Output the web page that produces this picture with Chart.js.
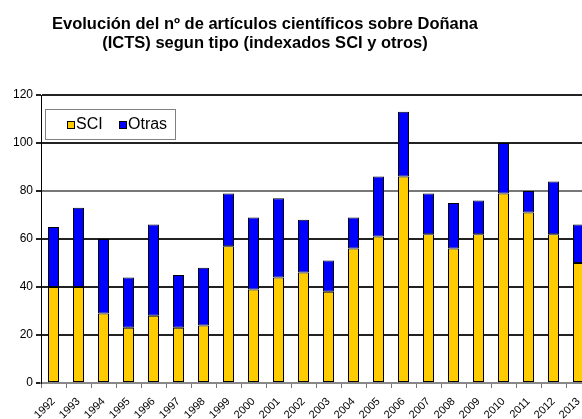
<!DOCTYPE html>
<html>
<head>
<meta charset="utf-8">
<script src="https://cdn.jsdelivr.net/npm/chart.js@4/dist/chart.umd.min.js"></script>
<style>
  html, body { margin: 0; padding: 0; background: #fff; overflow: hidden; }
  #wrap { width: 600px; height: 419px; }
</style>
</head>
<body>
<div id="wrap"><canvas id="chartArticulos" width="600" height="419"></canvas></div>
<script>
const years = ["1992", "1993", "1994", "1995", "1996", "1997", "1998", "1999", "2000", "2001", "2002",
  "2003", "2004", "2005", "2006", "2007", "2008", "2009", "2010", "2011", "2012", "2013"];
const sci = [40, 40, 29, 23, 28, 23, 24, 57, 39, 44, 46, 38, 56, 61, 86, 62, 56, 62, 79, 71, 62, 50];
const otras = [25, 33, 31, 21, 38, 22, 24, 22, 30, 33, 22, 13, 13, 25, 27, 17, 19, 14, 21, 9, 22, 16];
const yTicks = [0, 20, 40, 60, 80, 100, 120];
const titleLines = [
  "Evolución del nº de artículos científicos sobre Doñana",
  "(ICTS) segun tipo (indexados SCI y otros)",
];

const FONT = "'Liberation Sans', Arial, sans-serif";

// two-line bold title, centred a bit left of the canvas middle
const titlePlugin = {
  id: "titleLines",
  afterDraw(chart) {
    const ctx = chart.ctx;
    ctx.save();
    ctx.font = "bold 16.5px " + FONT;
    ctx.fillStyle = "#000";
    ctx.textAlign = "center";
    ctx.textBaseline = "middle";
    titleLines.forEach((t, i) => ctx.fillText(t, 265, 24 + i * 19));
    ctx.restore();
  },
};

// boxed legend sitting inside the plot, top-left
const legendBox = {
  id: "legendBox",
  afterDraw(chart) {
    const ctx = chart.ctx;
    const a = chart.chartArea;
    const x = a.left + 4, y = a.top + 14, w = 130, h = 30;
    ctx.save();
    ctx.fillStyle = "#fff";
    ctx.fillRect(x, y, w, h);
    ctx.strokeStyle = "#808080";
    ctx.lineWidth = 1;
    ctx.strokeRect(x + 0.5, y + 0.5, w, h);
    ctx.font = "16px " + FONT;
    ctx.textBaseline = "middle";
    let cx = x + 22;
    chart.data.datasets.forEach((ds) => {
      ctx.fillStyle = ds.backgroundColor;
      ctx.fillRect(cx, y + 12, 7, 7);
      ctx.strokeStyle = "#000";
      ctx.strokeRect(cx + 0.5, y + 12.5, 7, 7);
      ctx.fillStyle = "#000";
      ctx.fillText(ds.label, cx + 9, y + 16);
      cx += 52;
    });
    ctx.restore();
  },
};

new Chart(document.getElementById("chartArticulos"), {
  type: "bar",
  data: {
    labels: years,
    datasets: [
      { label: "SCI", data: sci, backgroundColor: "#FFCC00" },
      { label: "Otras", data: otras, backgroundColor: "#0000FF" },
    ],
  },
  options: {
    responsive: false,
    animation: false,
    layout: { padding: { top: 95, right: 9, left: 0, bottom: 0 } },
    datasets: {
      bar: {
        borderColor: "#000",
        borderWidth: 1,
        borderSkipped: false,
        categoryPercentage: 1,
        barPercentage: 0.44,
      },
    },
    plugins: {
      legend: { display: false },
      title: { display: false },
      tooltip: { enabled: false },
    },
    scales: {
      x: {
        stacked: true,
        grid: { drawOnChartArea: false, offset: true, tickLength: 5, color: "#777" },
        border: { color: "#888", width: 2 },
        ticks: {
          minRotation: 45,
          maxRotation: 45,
          padding: 7,
          color: "#000",
          font: { family: FONT, size: 11 },
        },
        afterFit: (s) => { s.height = 36; },
      },
      y: {
        stacked: true,
        min: 0,
        max: 120,
        afterBuildTicks: (s) => { s.ticks = yTicks.map((v) => ({ value: v })); },
        grid: {
          color: (c) => (c.tick && (c.tick.value === 80 || c.tick.value === 0) ? "#777" : "#222"),
          lineWidth: 2,
          tickLength: 5,
          tickColor: "#222",
        },
        border: { color: "#000", width: 1 },
        ticks: {
          padding: 3,
          color: "#000",
          font: { family: FONT, size: 12 },
        },
        afterFit: (s) => { s.width = 41; },
      },
    },
  },
  plugins: [titlePlugin, legendBox],
});
</script>
</body>
</html>
